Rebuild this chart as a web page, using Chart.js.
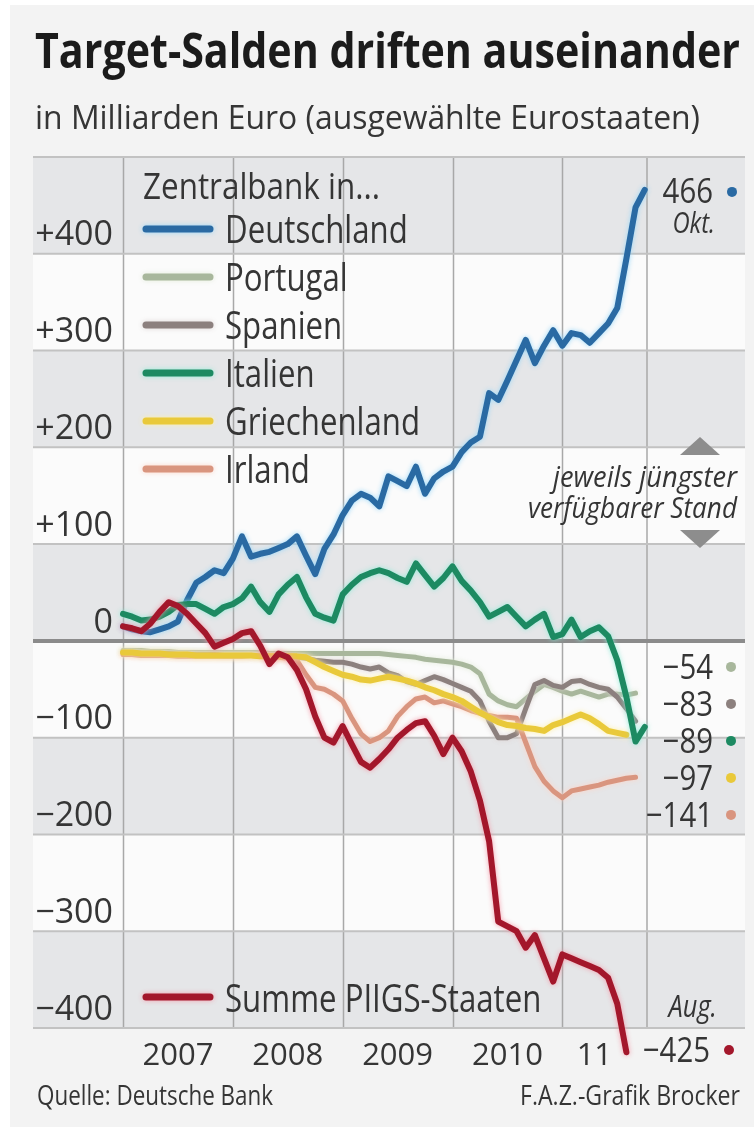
<!DOCTYPE html>
<html lang="de">
<head>
<meta charset="utf-8">
<title>Target-Salden driften auseinander</title>
<script src="https://cdn.jsdelivr.net/npm/chart.js@4.4.0/dist/chart.umd.min.js"></script>
<style>
  html, body { margin: 0; padding: 0; background: #ffffff; }
  #wrap { position: relative; width: 754px; height: 1131px; }
</style>
</head>
<body>
<div id="wrap"><canvas id="targetChart"></canvas></div>
<script>
// Monatswerte ab Januar 2007, Mrd. Euro
const deutschland = [
  15, 12, 10, 9, 12, 15, 20, 42, 60, 66, 73, 70,
  85, 108, 87, 90, 92, 96, 100, 108, 88, 69, 95, 110,
  130, 145, 152, 148, 139, 170, 165, 160, 180, 152, 168, 175,
  180, 195, 205, 211, 256, 249, 269, 290, 311, 287, 305, 321,
  305, 318, 316, 308, 318, 328, 344, 395, 448, 466
];
const portugal = [
  -10, -10, -10, -11, -11, -11, -12, -12, -12, -12, -12, -12,
  -12, -12, -12, -12, -13, -13, -13, -13, -13, -13, -13, -13,
  -13, -13, -13, -13, -13, -14, -15, -16, -17, -19, -20, -21,
  -22, -24, -27, -34, -55, -62, -66, -68, -60, -52, -45, -48,
  -52, -55, -52, -55, -58, -55, -55, -56, -54
];
const spanien = [
  -12, -12, -13, -13, -13, -13, -14, -14, -14, -14, -14, -15,
  -15, -15, -15, -16, -16, -16, -17, -17, -18, -20, -21, -22,
  -22, -24, -27, -29, -27, -33, -36, -42, -45, -41, -37, -40,
  -44, -48, -52, -62, -83, -100, -100, -96, -70, -45, -41, -46,
  -48, -42, -41, -45, -48, -50, -58, -70, -83
];
const italien = [
  28, 25, 21, 22, 25, 30, 37, 38, 38, 33, 28, 35,
  38, 44, 56, 40, 30, 48, 58, 66, 45, 28, 24, 21,
  48, 58, 66, 70, 73, 70, 65, 61, 80, 68, 56, 65,
  77, 62, 52, 40, 25, 30, 35, 25, 15, 22, 28, 4,
  7, 22, 4, 10, 14, 5, -20, -58, -104, -89
];
const griechenland = [
  -12, -12, -13, -13, -13, -14, -14, -14, -15, -15, -15, -15,
  -15, -15, -15, -16, -16, -16, -16, -16, -17, -22, -27, -31,
  -35, -37, -40, -41, -39, -37, -39, -41, -44, -48, -51, -55,
  -58, -62, -68, -74, -79, -84, -87, -88, -90, -91, -93, -87,
  -84, -80, -76, -80, -86, -93, -95, -97
];
const irland = [
  -14, -14, -15, -15, -15, -15, -16, -16, -16, -16, -16, -16,
  -16, -16, -15, -15, -16, -17, -18, -20, -35, -48, -50, -55,
  -62, -80, -96, -104, -100, -93, -78, -68, -60, -58, -64, -62,
  -65, -68, -72, -75, -77, -79, -79, -80, -105, -130, -145, -155,
  -162, -155, -153, -151, -149, -146, -144, -142, -141
];
const piigs = [
  15, 13, 10, 18, 30, 40, 36, 28, 18, 8, -6, -2,
  2, 8, 10, -5, -24, -13, -17, -30, -50, -78, -100, -105,
  -88, -107, -125, -131, -122, -112, -100, -92, -85, -83, -98, -117,
  -100, -114, -135, -165, -207, -290, -295, -300, -317, -304, -328, -352,
  -324, -328, -332, -336, -340, -348, -375, -425
];

const yTicks = [-400, -300, -200, -100, 0, 100, 200, 300, 400];
const yearLines = [0, 12, 24, 36, 48];
const yearTicks = [6, 18, 30, 42, 51.5];
const yearLabels = ["2007", "2008", "2009", "2010", "11"];
const legendOrder = ["Deutschland", "Portugal", "Spanien", "Italien", "Griechenland", "Irland"];
const rightColumn = ["Portugal", "Spanien", "Italien", "Griechenland", "Irland"];

const FONT = '"Open Sans", "Noto Sans", "DejaVu Sans", sans-serif';
const TEXT = "#353535";

function toPoints(values) {
  return values.map((v, i) => ({ x: i, y: v }));
}

function fmt(v) {
  if (v > 0) return "+" + v;
  if (v < 0) return "\u2212" + Math.abs(v);
  return "0";
}

function drawText(ctx, text, x, y, o) {
  const size = o.size || 30;
  ctx.save();
  ctx.font = `${o.style || "normal"} ${o.weight || "normal"} ${size}px ${FONT}`;
  ctx.fillStyle = o.color || TEXT;
  ctx.textBaseline = "alphabetic";
  ctx.textAlign = o.align || "left";
  let sx = o.squeeze || 0.8;
  if (o.width) sx = o.width / ctx.measureText(text).width;
  ctx.translate(x, y);
  ctx.scale(sx, 1);
  ctx.fillText(text, 0, 0);
  ctx.restore();
}

function dot(ctx, x, y, color) {
  ctx.save();
  ctx.fillStyle = color;
  ctx.beginPath();
  ctx.arc(x, y, 5, 0, Math.PI * 2);
  ctx.fill();
  ctx.restore();
}

const series = [
  { label: "Summe PIIGS-Staaten", data: piigs, color: "#a3172b", halo: "rgba(245,150,165,0.9)", order: 0, width: 6 },
  { label: "Italien", data: italien, color: "#1d8a62", halo: "rgba(140,235,215,0.9)", order: 1, width: 6 },
  { label: "Deutschland", data: deutschland, color: "#2a6aa3", halo: "rgba(150,215,250,0.95)", order: 2, width: 6 },
  { label: "Griechenland", data: griechenland, color: "#e9c93a", halo: "rgba(255,240,160,0.9)", order: 3, width: 6 },
  { label: "Irland", data: irland, color: "#d9957f", halo: "rgba(255,210,195,0.9)", order: 4, width: 5 },
  { label: "Spanien", data: spanien, color: "#8c807e", halo: "rgba(220,210,210,0.9)", order: 5, width: 5 },
  { label: "Portugal", data: portugal, color: "#a8b79c", halo: "rgba(225,235,215,0.9)", order: 6, width: 5 }
];

const byName = name => series.find(s => s.label === name);

const backgroundPlugin = {
  id: "backgroundBands",
  beforeDraw(chart) {
    const { ctx, chartArea: a, scales: { x, y } } = chart;
    const left = 33, right = 745;
    ctx.save();
    ctx.fillStyle = "#ffffff";
    ctx.fillRect(0, 0, chart.width, chart.height);
    ctx.fillStyle = "#f3f3f3";
    ctx.fillRect(10, 5, chart.width - 10, chart.height - 9);

    const edges = yTicks.concat([500]);
    for (let i = 0; i < edges.length - 1; i++) {
      const top = y.getPixelForValue(edges[i + 1]);
      const bottom = y.getPixelForValue(edges[i]);
      ctx.fillStyle = i % 2 === 0 ? "#e5e6e8" : "#fbfbfb";
      ctx.fillRect(left, top, right - left, bottom - top);
    }

    ctx.strokeStyle = "#a8a8a8";
    ctx.lineWidth = 1.5;
    yearLines.forEach(m => {
      const px = Math.round(x.getPixelForValue(m)) + 0.5;
      ctx.beginPath();
      ctx.moveTo(px, a.top);
      ctx.lineTo(px, a.bottom);
      ctx.stroke();
    });
    ctx.beginPath();
    ctx.moveTo(a.right, a.top);
    ctx.lineTo(a.right, a.bottom);
    ctx.stroke();

    edges.forEach(v => {
      if (v === 0) return;
      const py = y.getPixelForValue(v);
      ctx.strokeStyle = "#c2c2c2";
      ctx.lineWidth = 2;
      ctx.beginPath();
      ctx.moveTo(left, py);
      ctx.lineTo(right, py);
      ctx.stroke();
    });
    const zero = y.getPixelForValue(0);
    ctx.strokeStyle = "#8b8b8b";
    ctx.lineWidth = 4;
    ctx.beginPath();
    ctx.moveTo(left, zero);
    ctx.lineTo(right, zero);
    ctx.stroke();
    ctx.restore();
  }
};

const haloPlugin = {
  id: "lineHalo",
  beforeDatasetDraw(chart, args) {
    const ds = chart.data.datasets[args.index];
    chart.ctx.save();
    chart.ctx.shadowColor = ds.haloColor;
    chart.ctx.shadowBlur = 5;
  },
  afterDatasetDraw(chart) {
    chart.ctx.restore();
  }
};

const annotationPlugin = {
  id: "annotations",
  afterDraw(chart) {
    const { ctx, chartArea: a, scales: { y } } = chart;

    drawText(ctx, "Target-Salden driften auseinander", 35, 68, { size: 49, weight: "bold", width: 705, color: "#1b1b1b" });
    drawText(ctx, "in Milliarden Euro (ausgewählte Eurostaaten)", 35, 129, { size: 33, width: 665 });

    drawText(ctx, "Zentralbank in...", 143, 199, { size: 36, width: 237 });

    const legendLine = (s, yy) => {
      ctx.save();
      ctx.strokeStyle = s.color;
      ctx.lineWidth = 7;
      ctx.lineCap = "round";
      ctx.shadowColor = s.halo;
      ctx.shadowBlur = 5;
      ctx.beginPath();
      ctx.moveTo(146, yy);
      ctx.lineTo(210, yy);
      ctx.stroke();
      ctx.restore();
    };

    legendOrder.forEach((name, i) => {
      const base = 243 + i * 48;
      legendLine(byName(name), base - 14);
      drawText(ctx, name, 225, base, { size: 39 });
    });

    const sum = byName("Summe PIIGS-Staaten");
    legendLine(sum, 997);
    drawText(ctx, sum.label, 225, 1012, { size: 39 });

    // rechte Spalte: jeweils jüngster Wert
    const de = byName("Deutschland");
    const deLast = de.data[de.data.length - 1];
    const deY = y.getPixelForValue(deLast);
    drawText(ctx, fmt(deLast).replace("+", ""), 713, deY + 13, { size: 35, align: "right", squeeze: 0.84 });
    dot(ctx, 732, deY + 2, de.color);
    drawText(ctx, "Okt.", 715, deY + 43, { size: 29, style: "italic", align: "right", squeeze: 0.82 });

    const rowBase = y.getPixelForValue(0) + 38;
    rightColumn.forEach((name, i) => {
      const s = byName(name);
      const last = s.data[s.data.length - 1];
      const base = rowBase + i * 37;
      drawText(ctx, fmt(last), 713, base, { size: 35, align: "right", squeeze: 0.84 });
      dot(ctx, 731, base - 12, s.color);
    });

    const sumLast = sum.data[sum.data.length - 1];
    drawText(ctx, "Aug.", 717, 1017, { size: 31, style: "italic", align: "right", squeeze: 0.82 });
    drawText(ctx, fmt(sumLast), 710, a.bottom + 34, { size: 35, align: "right", squeeze: 0.84 });
    dot(ctx, 729, a.bottom + 22, sum.color);

    drawText(ctx, "jeweils jüngster", 737, 487, { size: 29, style: "italic", align: "right", width: 184 });
    drawText(ctx, "verfügbarer Stand", 737, 518, { size: 29, style: "italic", align: "right", width: 209 });

    ctx.save();
    ctx.fillStyle = "#8d8d8d";
    ctx.beginPath();
    ctx.moveTo(700, 437);
    ctx.lineTo(720, 455);
    ctx.lineTo(680, 455);
    ctx.closePath();
    ctx.fill();
    ctx.beginPath();
    ctx.moveTo(680, 530);
    ctx.lineTo(720, 530);
    ctx.lineTo(700, 548);
    ctx.closePath();
    ctx.fill();
    ctx.restore();

    drawText(ctx, "Quelle: Deutsche Bank", 37, 1105, { size: 27, width: 236 });
    drawText(ctx, "F.A.Z.-Grafik Brocker", 740, 1105, { size: 27, align: "right", width: 220 });
  }
};

new Chart(document.getElementById("targetChart"), {
  type: "line",
  data: {
    datasets: series.map(s => ({
      label: s.label,
      data: toPoints(s.data),
      borderColor: s.color,
      haloColor: s.halo,
      borderWidth: s.width,
      order: s.order,
      clip: false,
      fill: false
    }))
  },
  options: {
    responsive: true,
    maintainAspectRatio: false,
    animation: false,
    layout: { padding: { top: 157, right: 107, left: 0, bottom: 0 } },
    elements: {
      point: { radius: 0, hoverRadius: 0 },
      line: { tension: 0, borderJoinStyle: "round", borderCapStyle: "round" }
    },
    plugins: {
      legend: { display: false },
      title: { display: false },
      tooltip: { enabled: false }
    },
    scales: {
      x: {
        type: "linear",
        min: 0,
        max: 57.25,
        afterBuildTicks: scale => { scale.ticks = yearTicks.map(v => ({ value: v })); },
        afterFit: scale => { scale.height = 103; },
        grid: { display: false, drawTicks: false },
        border: { display: false },
        ticks: {
          autoSkip: false,
          maxRotation: 0,
          padding: 10,
          color: TEXT,
          font: { family: FONT, size: 31 },
          callback: v => yearLabels[yearTicks.indexOf(v)]
        }
      },
      y: {
        min: -400,
        max: 500,
        afterBuildTicks: scale => { scale.ticks = yTicks.map(v => ({ value: v })); },
        afterFit: scale => { scale.width = 123; },
        grid: { display: false, drawTicks: false },
        border: { display: false },
        ticks: {
          padding: 10,
          labelOffset: -18,
          color: TEXT,
          font: { family: FONT, size: 34 },
          callback: v => fmt(v)
        }
      }
    }
  },
  plugins: [backgroundPlugin, haloPlugin, annotationPlugin]
});
</script>
</body>
</html>
